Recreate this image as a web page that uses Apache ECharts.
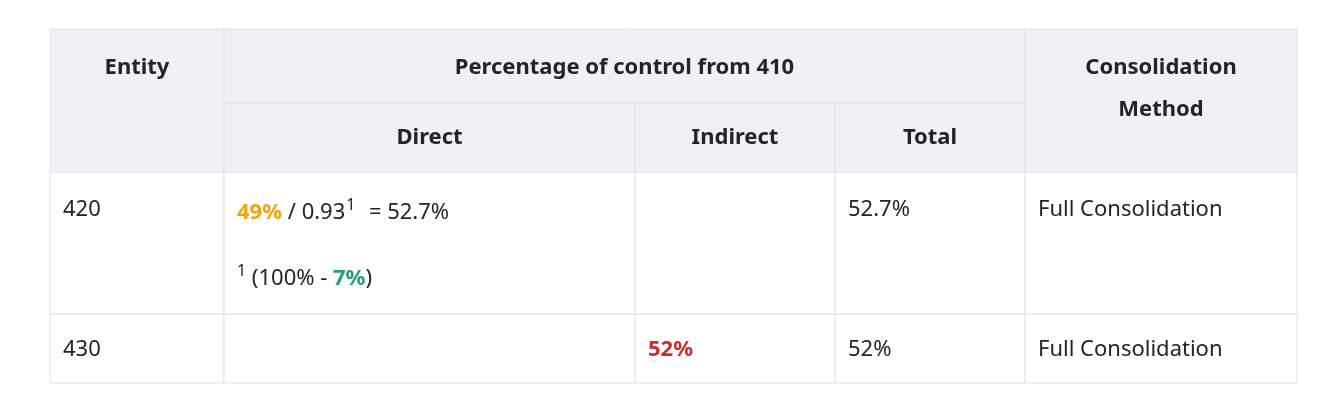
<!DOCTYPE html>
<html><head><meta charset="utf-8">
<script src="https://cdn.jsdelivr.net/npm/echarts@6/dist/echarts.min.js"></script>
<style>html,body{margin:0;background:#fff}#c{width:1320px;height:416px}</style></head>
<body><div id="c"></div>
<script>
const colEdges = [50, 224, 635, 835, 1025, 1297];
const rowEdges = [29, 103, 172, 314, 383];
const headTop = ['Entity', 'Percentage of control from 410', 'Consolidation\nMethod'];
const headSub = ['Direct', 'Indirect', 'Total'];
const entities = ['420', '430'];
const directVals = ['49%', ''];
const indirectVals = ['', '52%'];
const totals = ['52.7%', '52%'];
const methods = ['Full Consolidation', 'Full Consolidation'];
const divisor = '0.93', result = '52.7%', footPct = '7%';

const FONT = '"Noto Sans", sans-serif', TXT = '#212529', BORDER = '#dee2e6', HEAD = '#f0f1f3';
const BF = '22px ' + FONT, BB = 'bold 22px ' + FONT, SF = '16px ' + FONT;
const g = [];
function rect(x1,y1,x2,y2,fill){g.push({type:'rect',shape:{x:x1,y:y1,width:x2-x1,height:y2-y1},style:{fill:fill,stroke:BORDER,lineWidth:1}});}
function text(x,y,t,o){g.push({type:'text',x:x,y:y,style:Object.assign({text:t,fill:TXT,font:BF,textVerticalAlign:'middle'},o||{})});}
const c=colEdges,r=rowEdges;
rect(c[0],r[0],c[1],r[2],HEAD); rect(c[1],r[0],c[4],r[1],HEAD);
rect(c[1],r[1],c[2],r[2],HEAD); rect(c[2],r[1],c[3],r[2],HEAD); rect(c[3],r[1],c[4],r[2],HEAD);
rect(c[4],r[0],c[5],r[2],HEAD);
const hb={font:'bold 22px '+FONT,textAlign:'center'};
text((c[0]+c[1])/2,68,headTop[0],hb);
text((c[1]+c[4])/2,68,headTop[1],hb);
text((c[4]+c[5])/2,89,headTop[2],Object.assign({lineHeight:42},hb));
for(let i=0;i<3;i++) text((c[1+i]+c[2+i])/2,138,headSub[i],hb);
for(let k=0;k<2;k++){
  for(let j=0;j<5;j++) rect(c[j],r[2+k],c[j+1],r[3+k],'#fff');
}
const ys=[210,350];
for(let k=0;k<2;k++){
  text(c[0]+13,ys[k],entities[k]);
  text(c[3]+13,ys[k],totals[k]);
  text(c[4]+13,ys[k],methods[k]);
  if(indirectVals[k]) text(c[2]+13,ys[k],indirectVals[k],{fill:'#c9302c',font:BB});
}
const N={fill:TXT,font:BF,lineHeight:32,verticalAlign:'middle'};
const S={fill:TXT,font:SF,lineHeight:16,verticalAlign:'top'};
g.push({type:'text',x:c[1]+13,y:213,style:{
  text:'{o|'+directVals[0]+'}{n| / '+divisor+'}{s|1}{n|  = '+result+'}',
  textVerticalAlign:'middle',
  rich:{o:Object.assign({},N,{fill:'#f5a30a',font:BB}),n:N,s:Object.assign({},S,{padding:[0,2,0,1]})}}});
g.push({type:'text',x:c[1]+13,y:279,style:{
  text:'{s|1}{n| (100% - }{g|'+footPct+'}{n|)}',
  textVerticalAlign:'middle',
  rich:{g:Object.assign({},N,{fill:'#2a9d6e',font:BB}),n:N,s:S}}});
const chart=echarts.init(document.getElementById('c'));
chart.setOption({animation:false,graphic:g});
</script></body></html>
